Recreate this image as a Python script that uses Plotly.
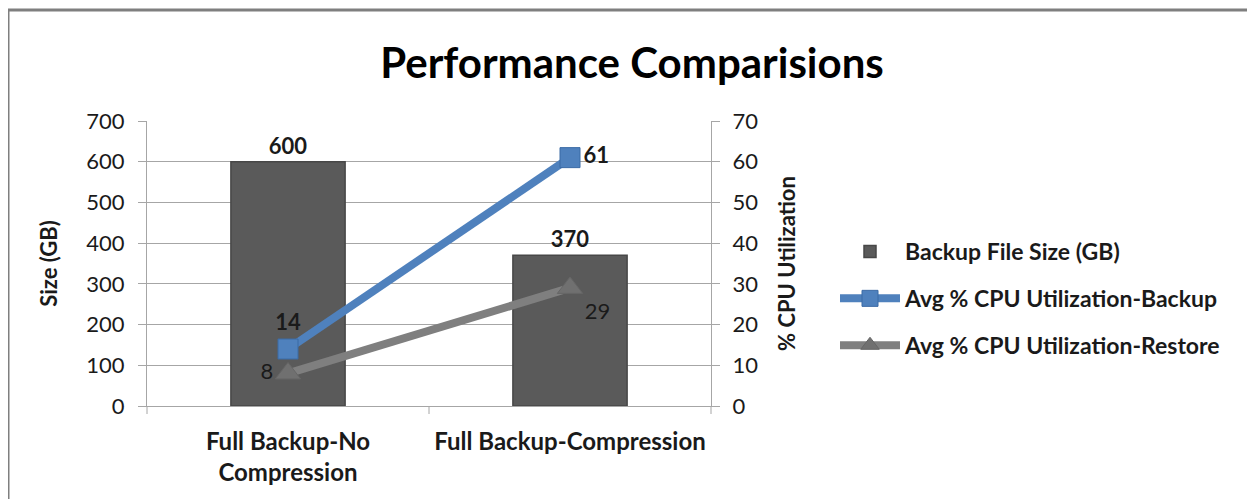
import plotly.graph_objects as go

categories = ["Full Backup-No<br>Compression", "Full Backup-Compression"]
size_gb = [600, 370]
cpu_backup = [14, 61]
cpu_restore = [8, 29]
size_ticks = [0, 100, 200, 300, 400, 500, 600, 700]
cpu_ticks = [0, 10, 20, 30, 40, 50, 60, 70]

# page body has an 8px margin; work in reference-image pixels and offset
OFF = 8
W, H = 1255 - OFF, 499 - OFF
L = 147 - OFF
T = 121 - OFF
R = W - (711 - OFF)
B = H - (406 - OFF)
PW, PH = W - L - R, H - T - B

def px(rx):
    return (rx - OFF - L) / PW

def py(ry):
    return (H - B - (ry - OFF)) / PH

FONT = "Lato, Open Sans, sans-serif"
TXT = "#1a1a1a"

fig = go.Figure()
fig.add_trace(go.Bar(
    x=categories, y=size_gb, name="Backup File Size (GB)", legendgroup="a",
    marker=dict(color="#5a5a5a", line=dict(color="#474747", width=1.5)),
    width=0.405, text=[str(v) for v in size_gb], textposition="outside",
    textfont=dict(family=FONT, size=22, color=TXT, weight="bold"),
    cliponaxis=False,
))
fig.add_trace(go.Scatter(
    x=categories, y=cpu_backup, yaxis="y2", name="Avg % CPU Utilization-Backup", legendgroup="b",
    mode="lines+markers+text",
    line=dict(color="#4F81BD", width=8),
    marker=dict(symbol="square", size=20, color="#4F81BD", line=dict(color="#3a6aa5", width=1)),
    text=[str(v) for v in cpu_backup], textposition=["top center", "middle right"],
    textfont=dict(family=FONT, size=22, color=TXT, weight="bold"),
    cliponaxis=False,
))
fig.add_trace(go.Scatter(
    x=categories, y=cpu_restore, yaxis="y2", name="Avg % CPU Utilization-Restore", legendgroup="c",
    mode="lines+markers+text",
    line=dict(color="#7f7f7f", width=8),
    marker=dict(symbol="triangle-up", size=22, color="#707070", line=dict(color="#666666", width=1)),
    text=[str(v) for v in cpu_restore], textposition=["middle left", "bottom right"],
    textfont=dict(family=FONT, size=22, color=TXT),
    cliponaxis=False,
))

fig.update_layout(
    width=W, height=H,
    margin=dict(l=L, r=R, t=T, b=B),
    paper_bgcolor="white", plot_bgcolor="white",
    font=dict(family=FONT, color=TXT),
    title=dict(text="<b>Performance Comparisions</b>", x=(632 - OFF) / W, xanchor="center",
               y=1 - (63 - OFF) / H, yanchor="middle",
               font=dict(family=FONT, size=42, color="#000000")),
    showlegend=True,
    legend=dict(x=px(835), y=py(230), xanchor="left", yanchor="top",
                font=dict(family=FONT, size=23, color=TXT, weight="bold"),
                tracegroupgap=14, itemwidth=60, bgcolor="rgba(0,0,0,0)"),
    xaxis=dict(
        showgrid=False, showline=True, linecolor="#a6a6a6", linewidth=1,
        ticks="", tickfont=dict(family=FONT, size=24, color=TXT, weight="bold"),
        ticklabelstandoff=14,
        range=[-0.5, 1.5],
    ),
    yaxis=dict(
        range=[0, 700], tickvals=size_ticks, showgrid=True, gridcolor="#a6a6a6", gridwidth=1,
        showline=True, linecolor="#a6a6a6", ticks="outside", ticklen=8, tickcolor="#a6a6a6",
        tickfont=dict(family=FONT, size=22, color=TXT), zeroline=False, ticklabelstandoff=9,
        title=dict(text="<b>Size (GB)</b>", font=dict(family=FONT, size=22, color=TXT), standoff=22),
    ),
    yaxis2=dict(
        range=[0, 70], tickvals=cpu_ticks, overlaying="y", side="right", showgrid=False,
        showline=True, linecolor="#a6a6a6", ticks="outside", ticklen=8, tickcolor="#a6a6a6",
        tickfont=dict(family=FONT, size=22, color=TXT), zeroline=False, ticklabelstandoff=8,
        title=dict(text="<b>% CPU Utilization</b>", font=dict(family=FONT, size=22, color=TXT), standoff=22),
    ),
)

# x-axis category boundary ticks
for xv in [px(147), px(429), px(711)]:
    fig.add_shape(type="line", xref="paper", yref="paper", x0=xv, x1=xv, y0=0, y1=py(414),
                  line=dict(color="#a6a6a6", width=1))

# outer chart frame
fig.add_shape(type="rect", xref="paper", yref="paper",
              x0=px(8), x1=px(1253), y0=py(520), y1=py(10),
              line=dict(color="#7f7f7f", width=3), layer="below")

fig.write_html("out.html")
